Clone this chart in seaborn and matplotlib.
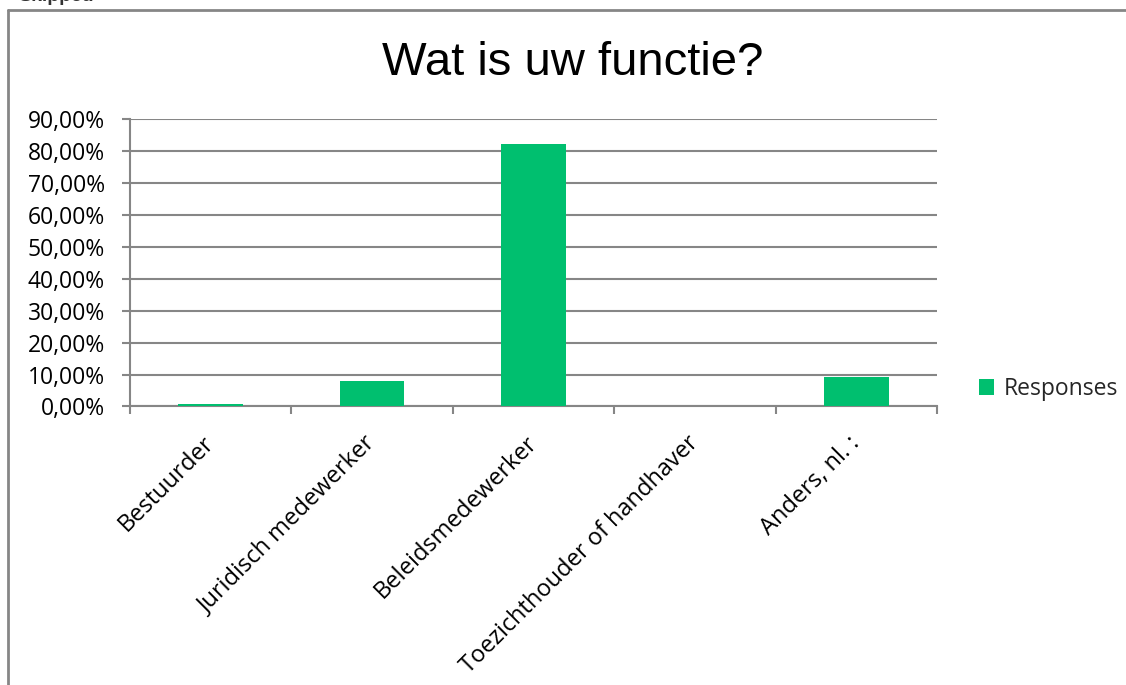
import matplotlib
matplotlib.use("Agg")
import matplotlib.pyplot as plt
from matplotlib.ticker import FuncFormatter, MultipleLocator, FixedLocator
from matplotlib.lines import Line2D
import pandas as pd
import seaborn as sns

# Data
categories = ["Bestuurder", "Juridisch medewerker", "Beleidsmedewerker",
              "Toezichthouder of handhaver", "Anders, nl. :"]
responses = [0.8, 7.9, 82.1, 0.0, 9.2]
series_name = "Responses"
title = "Wat is uw functie?"

green = "#00BF6F"
grey = "#868686"

sns.set_theme(style="white")
plt.rcParams['font.family'] = ['Open Sans', 'DejaVu Sans']

df = pd.DataFrame({"functie": categories, "pct": responses, "serie": series_name})

fig = plt.figure(figsize=(11.26, 6.85), dpi=100)
ax = fig.add_axes([130 / 1126, 1 - 406.5 / 685, (937 - 130) / 1126, (406.5 - 119) / 685])

sns.barplot(data=df, x="functie", y="pct", hue="serie", palette=[green],
            width=0.4, saturation=1, edgecolor=green, linewidth=0, ax=ax)
for bar in ax.patches:
    bar.set_zorder(3)

ax.set_xlim(-0.5, len(categories) - 0.5)
ax.set_ylim(0, 90)
ax.yaxis.set_major_locator(MultipleLocator(10))
ax.yaxis.set_major_formatter(FuncFormatter(lambda v, p: f"{v:.2f}%".replace(".", ",")))
ax.set_xlabel("")
ax.set_ylabel("")

# gridlines
ax.grid(axis="y", color=grey, linewidth=1.5)
ax.set_axisbelow(True)
for s in ["top", "right"]:
    ax.spines[s].set_visible(False)
for s in ["left", "bottom"]:
    ax.spines[s].set_color(grey)
    ax.spines[s].set_linewidth(1.5)
    ax.spines[s].set_zorder(2)

# ticks
ax.tick_params(axis="y", which="major", direction="out", length=6, width=1.5,
               color=grey, left=True, labelsize=16.5, labelcolor="black", pad=12)
ax.xaxis.set_minor_locator(FixedLocator([i - 0.5 for i in range(len(categories) + 1)]))
ax.tick_params(axis="x", which="minor", direction="out", length=6, width=1.5,
               color=grey, bottom=True)
ax.tick_params(axis="x", which="major", length=0, labelsize=17, labelcolor="black", pad=24)
for lab in ax.get_xticklabels():
    lab.set_rotation(45)
    lab.set_ha("right")
    lab.set_va("center")
    lab.set_rotation_mode("anchor")

# title
fig.text(573 / 1126, 1 - 75 / 685, title, ha="center", va="baseline",
         fontsize=34, family=["Liberation Sans", "DejaVu Sans"], color="black")

# legend
ax.legend(loc="center left", bbox_to_anchor=(968 / 1126, 1 - 389 / 685),
          bbox_transform=fig.transFigure, frameon=False, fontsize=16.5,
          handlelength=0.65, handleheight=0.65, handletextpad=0.4, borderpad=0)

# chart frame (top and left edges visible)
fig.add_artist(Line2D([8 / 1126, 1.0], [1 - 10 / 685, 1 - 10 / 685],
                      transform=fig.transFigure, color=grey, linewidth=2))
fig.add_artist(Line2D([8 / 1126, 8 / 1126], [0.0, 1 - 10 / 685],
                      transform=fig.transFigure, color=grey, linewidth=2))

# cut-off header text above the frame
fig.text(18 / 1126, 1 - 1 / 685, "Skipped", ha="left", va="baseline",
         fontsize=14, fontweight="bold", color="#333333",
         family=["Liberation Sans", "DejaVu Sans"])

fig.savefig("out.png", dpi=100)
